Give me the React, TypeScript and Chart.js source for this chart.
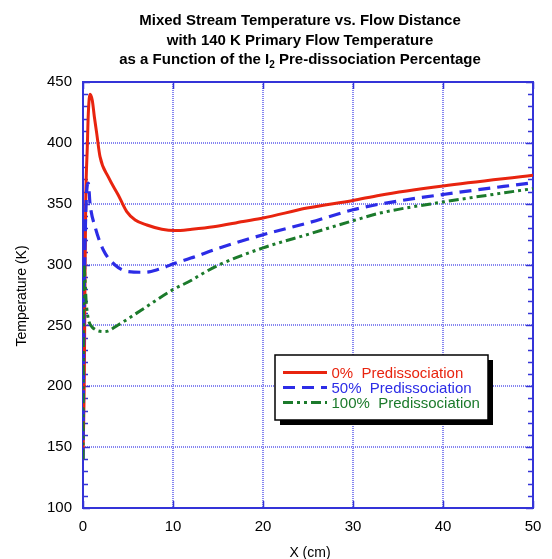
import React, { useEffect, useRef } from "react";
import { Chart, registerables } from "chart.js";

Chart.register(...registerables);

const TITLE_LINES = [
  "Mixed Stream Temperature vs. Flow Distance",
  "with 140 K Primary Flow Temperature",
];
const TITLE_L3_PRE = "as a Function of the I";
const TITLE_L3_SUB = "2";
const TITLE_L3_POST = " Pre-dissociation Percentage";
const X_TITLE = "X (cm)";
const Y_TITLE = "Temperature (K)";

const X_MIN = 0, X_MAX = 50, X_STEP = 10;
const Y_MIN = 100, Y_MAX = 450, Y_STEP = 50, Y_MINOR = 10;

const SERIES_LABELS = ["0%  Predissociation", "50%  Predissociation", "100%  Predissociation"];

const x0 = [0, 0.15, 0.22, 0.3, 0.48, 0.59, 0.78, 1.03, 1.26, 1.52, 1.89, 2.81, 3.93, 4.86, 5.8, 7.1, 8.76, 10.2, 12.1, 14.5, 17.8, 20, 24.9, 30, 33, 40, 50];
const t0 = [140, 212, 287, 350, 397, 424, 440, 435, 421.5, 408, 388.7, 372, 357, 343.5, 336.6, 332.5, 329, 327.9, 329, 331, 335.4, 338.2, 346.4, 352.7, 357, 364.5, 373.3];

const x50 = [0, 0.1, 0.3, 0.59, 0.78, 1.34, 2.26, 3.56, 5.05, 6.9, 8.4, 10.2, 12.5, 14.5, 20, 24.9, 30, 33, 40, 50];
const t50 = [140, 250, 340, 367, 350, 331, 312, 299.7, 294.2, 293.7, 296.1, 301, 306.5, 312, 324.5, 334, 345, 349.7, 357.6, 367.3];

const x100 = [0, 0.08, 0.4, 0.97, 2.45, 3.9, 6.5, 9.9, 12.1, 13, 15.2, 20, 24.9, 30, 33, 40, 50];
const t100 = [140, 300, 265, 249, 245, 250.4, 262.7, 279, 287.3, 291.4, 300, 313.7, 324.6, 336, 342.3, 351.4, 362.4];

const COLORS = ["#e8240f", "#2c2ce6", "#1b7a2b"];
const DASHES: number[][] = [[], [12, 7], [10, 4, 3, 4, 3, 4]];
const WIDTHS = [3, 3.2, 3];
const ORDERS = [3, 2, 1];

const AXIS_COLOR = "#3434d8";
const GRID_COLOR = "#8585f0";
const FONT = "'Liberation Sans', Arial, Helvetica, sans-serif";

function pts(xs: number[], ys: number[]) {
  return xs.map((x, i) => ({ x, y: ys[i] }));
}

const framePlugin = {
  id: "frame",
  beforeDatasetsDraw(chart: any) {
    const { ctx, chartArea: a, scales } = chart;
    const xs = scales.x, ys = scales.y;
    ctx.save();
    // dotted grid
    ctx.strokeStyle = GRID_COLOR;
    ctx.lineWidth = 2;
    ctx.setLineDash([1, 1]);
    ctx.beginPath();
    for (let v = X_MIN + X_STEP; v < X_MAX; v += X_STEP) {
      const x = Math.round(xs.getPixelForValue(v));
      ctx.moveTo(x, a.top); ctx.lineTo(x, a.bottom);
    }
    for (let v = Y_MIN + Y_STEP; v < Y_MAX; v += Y_STEP) {
      const y = Math.round(ys.getPixelForValue(v));
      ctx.moveTo(a.left, y); ctx.lineTo(a.right, y);
    }
    ctx.stroke();
    ctx.setLineDash([]);
    // frame
    ctx.strokeStyle = AXIS_COLOR;
    ctx.lineWidth = 2;
    ctx.strokeRect(a.left, a.top, a.right - a.left, a.bottom - a.top);
    ctx.lineWidth = 1.5;
    ctx.beginPath();
    for (let v = Y_MIN; v <= Y_MAX; v += Y_MINOR) {
      const y = Math.round(ys.getPixelForValue(v)) + 0.5;
      const len = v % Y_STEP === 0 ? 7 : 5;
      ctx.moveTo(a.left, y); ctx.lineTo(a.left + len, y);
      ctx.moveTo(a.right, y); ctx.lineTo(a.right - len, y);
    }
    for (let v = X_MIN; v <= X_MAX; v += X_STEP) {
      const x = Math.round(xs.getPixelForValue(v)) + 0.5;
      ctx.moveTo(x, a.bottom); ctx.lineTo(x, a.bottom - 7);
      ctx.moveTo(x, a.top); ctx.lineTo(x, a.top + 7);
    }
    ctx.stroke();
    ctx.restore();
  },
  afterDraw(chart: any) {
    const { ctx } = chart;
    ctx.save();
    ctx.fillStyle = "#000";
    ctx.textAlign = "left";
    ctx.textBaseline = "alphabetic";
    const cx = 300;
    const bold = `bold 15px ${FONT}`;
    const baselines = [25, 44.5, 64];
    ctx.font = bold;
    TITLE_LINES.forEach((t, i) => {
      const w = ctx.measureText(t).width;
      ctx.fillText(t, cx - w / 2, baselines[i]);
    });
    const subFont = `bold 10px ${FONT}`;
    ctx.font = bold;
    const w1 = ctx.measureText(TITLE_L3_PRE).width;
    const w3 = ctx.measureText(TITLE_L3_POST).width;
    ctx.font = subFont;
    const w2 = ctx.measureText(TITLE_L3_SUB).width;
    let sx = cx - (w1 + w2 + w3) / 2;
    ctx.font = bold;
    ctx.fillText(TITLE_L3_PRE, sx, baselines[2]);
    sx += w1;
    ctx.font = subFont;
    ctx.fillText(TITLE_L3_SUB, sx, baselines[2] + 4);
    sx += w2;
    ctx.font = bold;
    ctx.fillText(TITLE_L3_POST, sx, baselines[2]);

    ctx.font = `14px ${FONT}`;
    ctx.textAlign = "center";
    ctx.textBaseline = "alphabetic";
    ctx.fillText(X_TITLE, 310, 557);
    ctx.save();
    ctx.translate(26, 296);
    ctx.rotate(-Math.PI / 2);
    ctx.fillText(Y_TITLE, 0, 0);
    ctx.restore();

    const bx = 275, by = 355, bw = 213, bh = 65;
    ctx.fillStyle = "#000";
    ctx.fillRect(bx + 5, by + 5, bw, bh);
    ctx.fillStyle = "#fff";
    ctx.fillRect(bx, by, bw, bh);
    ctx.strokeStyle = "#000";
    ctx.lineWidth = 1.5;
    ctx.strokeRect(bx, by, bw, bh);
    const rows = [372.5, 387.5, 402.5];
    ctx.font = `15px ${FONT}`;
    ctx.textAlign = "left";
    ctx.textBaseline = "middle";
    SERIES_LABELS.forEach((lab, i) => {
      ctx.strokeStyle = COLORS[i];
      ctx.lineWidth = WIDTHS[i];
      ctx.setLineDash(DASHES[i]);
      ctx.beginPath();
      ctx.moveTo(283, rows[i]);
      ctx.lineTo(327, rows[i]);
      ctx.stroke();
      ctx.setLineDash([]);
      ctx.fillStyle = COLORS[i];
      ctx.fillText(lab, 331.5, rows[i] + 1);
    });
    ctx.restore();
  },
};

export default function App() {
  const ref = useRef<HTMLCanvasElement | null>(null);
  useEffect(() => {
    document.body.style.margin = "0";
    const canvas = ref.current;
    if (!canvas) return;
    const mk = (i: number, data: { x: number; y: number }[]) => ({
      label: SERIES_LABELS[i],
      data,
      order: ORDERS[i],
      borderColor: COLORS[i],
      backgroundColor: COLORS[i],
      borderWidth: WIDTHS[i],
      borderDash: DASHES[i],
      pointRadius: 0,
      fill: false,
      cubicInterpolationMode: "monotone" as const,
    });
    const chart = new Chart(canvas, {
      type: "line",
      data: {
        datasets: [mk(0, pts(x0, t0)), mk(1, pts(x50, t50)), mk(2, pts(x100, t100))],
      },
      options: {
        responsive: false,
        animation: false,
        devicePixelRatio: 1,
        layout: { padding: { top: 82, right: 19, left: 0, bottom: 0 } },
        plugins: {
          legend: { display: false },
          title: { display: false },
          tooltip: { enabled: false },
        },
        scales: {
          x: {
            type: "linear",
            min: X_MIN,
            max: X_MAX,
            ticks: { stepSize: X_STEP, color: "#000", font: { family: FONT, size: 15 }, padding: 10, maxRotation: 0 },
            grid: { display: false, drawTicks: false },
            border: { display: false },
            afterFit: (s: any) => { s.height = 51; },
          },
          y: {
            type: "linear",
            min: Y_MIN,
            max: Y_MAX,
            ticks: { stepSize: Y_STEP, color: "#000", font: { family: FONT, size: 15 }, padding: 11 },
            grid: { display: false, drawTicks: false },
            border: { display: false },
            afterFit: (s: any) => { s.width = 83; },
          },
        },
      },
      plugins: [framePlugin],
    });
    return () => chart.destroy();
  }, []);
  return (
    <div style={{ width: 552, height: 559 }}>
      <canvas ref={ref} width={552} height={559} style={{ display: "block" }} />
    </div>
  );
}
